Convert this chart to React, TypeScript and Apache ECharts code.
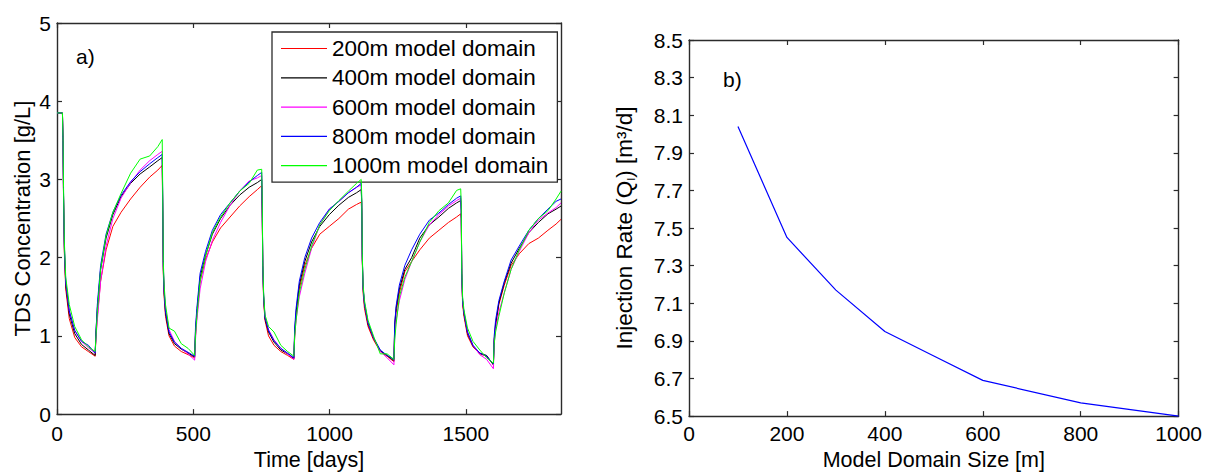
import React, { useEffect, useRef } from "react";
import * as echarts from "echarts";

// Time axis (days) shared by all concentration series
const timeDays = [
  0, 20, 22, 24, 27, 32, 45, 65, 90, 115, 140,
  143, 148, 160, 180, 205, 235, 270, 305, 340, 370, 386,
  388, 390, 393, 398, 411, 431, 456, 481, 505,
  508, 513, 525, 545, 570, 600, 635, 670, 705, 735, 751,
  753, 755, 758, 763, 776, 796, 821, 846, 869,
  872, 877, 889, 909, 934, 964, 999, 1034, 1069, 1099, 1116,
  1118, 1120, 1123, 1128, 1141, 1161, 1186, 1211, 1236,
  1239, 1244, 1256, 1276, 1301, 1331, 1366, 1401, 1436, 1466, 1481,
  1483, 1485, 1488, 1493, 1506, 1526, 1551, 1576, 1601,
  1604, 1609, 1621, 1641, 1666, 1696, 1731, 1766, 1801, 1831, 1849,
];

const tds200 = [
  3.85, 3.85, 3.5, 2.75, 2.05, 1.6, 1.22, 0.98, 0.86, 0.8, 0.74,
  1.0, 1.25, 1.7, 2.1, 2.4, 2.58, 2.75, 2.9, 3.03, 3.12, 3.18,
  2.5, 1.8, 1.5, 1.25, 1.0, 0.87, 0.8, 0.76, 0.72,
  1.0, 1.25, 1.7, 1.98, 2.2, 2.38, 2.52, 2.66, 2.78, 2.87, 2.92,
  2.5, 1.85, 1.45, 1.2, 1.0, 0.88, 0.8, 0.75, 0.7,
  1.0, 1.25, 1.6, 1.9, 2.12, 2.3, 2.4, 2.5, 2.62, 2.68, 2.71,
  2.6, 1.95, 1.55, 1.35, 1.12, 0.95, 0.8, 0.74, 0.67,
  1.1, 1.3, 1.55, 1.82, 1.95, 2.1, 2.25, 2.35, 2.45, 2.52, 2.56,
  2.5, 1.75, 1.4, 1.25, 1.0, 0.86, 0.77, 0.74, 0.63,
  0.95, 1.12, 1.4, 1.65, 1.9, 2.05, 2.18, 2.25, 2.35, 2.43, 2.49,
];

const tds400 = [
  3.85, 3.85, 3.5, 2.8, 2.1, 1.65, 1.28, 1.03, 0.89, 0.82, 0.75,
  1.05, 1.35, 1.85, 2.25, 2.55, 2.78, 2.95, 3.07, 3.16, 3.24, 3.28,
  2.6, 1.85, 1.55, 1.3, 1.03, 0.9, 0.83, 0.78, 0.73,
  1.05, 1.3, 1.75, 2.03, 2.3, 2.5, 2.67, 2.8, 2.9, 2.96, 3.0,
  2.6, 1.9, 1.5, 1.22, 1.05, 0.92, 0.82, 0.77, 0.71,
  1.05, 1.3, 1.65, 1.95, 2.2, 2.4, 2.55, 2.67, 2.77, 2.83, 2.87,
  2.7, 2.0, 1.6, 1.4, 1.15, 0.97, 0.81, 0.75, 0.68,
  1.15, 1.35, 1.6, 1.85, 2.0, 2.25, 2.42, 2.52, 2.63, 2.7, 2.73,
  2.6, 1.8, 1.45, 1.28, 1.03, 0.87, 0.78, 0.75, 0.63,
  0.95, 1.15, 1.42, 1.68, 1.93, 2.12, 2.32, 2.45, 2.56, 2.62, 2.66,
];

const tds600 = [
  3.85, 3.85, 3.5, 2.8, 2.15, 1.7, 1.32, 1.07, 0.93, 0.85, 0.78,
  0.98, 1.2, 1.7, 2.15, 2.5, 2.76, 2.96, 3.12, 3.24, 3.32, 3.36,
  2.7, 1.9, 1.6, 1.35, 1.08, 0.93, 0.84, 0.77, 0.69,
  0.95, 1.2, 1.6, 1.95, 2.22, 2.45, 2.67, 2.85, 2.98, 3.02, 3.05,
  2.6, 1.9, 1.52, 1.25, 1.08, 0.95, 0.84, 0.77, 0.7,
  1.0, 1.2, 1.5, 1.8, 2.12, 2.42, 2.62, 2.72, 2.83, 2.9, 2.93,
  2.7, 2.0, 1.62, 1.42, 1.17, 0.98, 0.8, 0.72, 0.63,
  1.0, 1.2, 1.45, 1.72, 1.95, 2.2, 2.42, 2.55, 2.66, 2.73, 2.76,
  2.6, 1.8, 1.45, 1.3, 1.05, 0.88, 0.76, 0.7, 0.58,
  0.9, 1.08, 1.3, 1.55, 1.85, 2.08, 2.32, 2.48, 2.57, 2.64, 2.7,
];

const tds800 = [
  3.85, 3.85, 3.5, 2.8, 2.15, 1.7, 1.32, 1.07, 0.93, 0.88, 0.78,
  1.05, 1.4, 1.9, 2.3, 2.58, 2.8, 2.97, 3.1, 3.2, 3.28, 3.32,
  2.7, 1.9, 1.58, 1.32, 1.05, 0.92, 0.84, 0.79, 0.74,
  1.1, 1.35, 1.8, 2.08, 2.35, 2.55, 2.7, 2.85, 2.97, 3.05, 3.09,
  2.6, 1.9, 1.52, 1.24, 1.07, 0.94, 0.84, 0.78, 0.72,
  1.1, 1.35, 1.7, 2.0, 2.25, 2.45, 2.62, 2.72, 2.83, 2.9, 2.95,
  2.7, 2.0, 1.62, 1.42, 1.17, 0.98, 0.82, 0.75, 0.7,
  1.15, 1.38, 1.65, 1.9, 2.1, 2.3, 2.48, 2.57, 2.68, 2.76, 2.79,
  2.6, 1.8, 1.45, 1.3, 1.05, 0.88, 0.78, 0.74, 0.64,
  1.0, 1.2, 1.45, 1.7, 1.97, 2.15, 2.35, 2.5, 2.62, 2.72, 2.75,
];

const tds1000 = [
  3.85, 3.85, 3.55, 2.9, 2.2, 1.75, 1.4, 1.12, 0.95, 0.86, 0.8,
  1.0, 1.3, 1.85, 2.28, 2.58, 2.82, 3.08, 3.26, 3.3, 3.42, 3.51,
  2.8, 1.95, 1.65, 1.4, 1.1, 1.06, 0.9, 0.84, 0.75,
  1.0, 1.25, 1.7, 2.02, 2.32, 2.52, 2.7, 2.85, 2.95, 3.12, 3.13,
  2.7, 1.95, 1.55, 1.27, 1.12, 1.05, 0.88, 0.8, 0.74,
  1.0, 1.2, 1.55, 1.85, 2.15, 2.42, 2.6, 2.73, 2.85, 2.95, 3.0,
  2.8, 2.05, 1.65, 1.45, 1.2, 1.0, 0.77, 0.77, 0.7,
  0.95, 1.15, 1.5, 1.75, 1.95, 2.2, 2.45, 2.6, 2.7, 2.86, 2.88,
  2.7, 1.85, 1.5, 1.33, 1.1, 0.93, 0.82, 0.72, 0.65,
  0.9, 1.05, 1.25, 1.55, 1.85, 2.1, 2.35, 2.5, 2.6, 2.75, 2.85,
];

const seriesNames = [
  "200m model domain",
  "400m model domain",
  "600m model domain",
  "800m model domain",
  "1000m model domain",
];
const seriesColors = ["#ff0000", "#000000", "#ff00ff", "#0000ff", "#00ff00"];
const seriesValues = [tds200, tds400, tds600, tds800, tds1000];

// Right panel
const domainSizes = [100, 200, 300, 400, 500, 600, 800, 1000];
const injectionRates = [8.04, 7.45, 7.17, 6.95, 6.82, 6.69, 6.57, 6.5];

// Tick labels
const timeTicks = [0, 500, 1000, 1500];
const tdsTicks = [0, 1, 2, 3, 4, 5];
const domainTicks = [0, 200, 400, 600, 800, 1000];
const rateTicks = [6.5, 6.7, 6.9, 7.1, 7.3, 7.5, 7.7, 7.9, 8.1, 8.3, 8.5];

const FONT = "'Liberation Sans', Arial, Helvetica, sans-serif";
const AX = "#2b2b2b";

function axisBase(ticks: number[], showLabel: boolean, margin: number, fmt?: (v: number) => string) {
  return {
    type: "value" as const,
    splitLine: { show: false },
    axisLine: { show: true, onZero: false, lineStyle: { color: AX, width: 1.4 } },
    axisTick: { show: true, inside: true, length: 5, customValues: ticks, lineStyle: { color: AX, width: 1.2 } },
    axisLabel: {
      show: showLabel,
      customValues: ticks,
      margin,
      color: "#000",
      fontSize: 21,
      fontFamily: FONT,
      formatter: fmt || ((v: number) => String(v)),
    },
  };
}

export default function App() {
  const ref = useRef<HTMLDivElement>(null);

  useEffect(() => {
    if (!ref.current) return;
    const chart = echarts.init(ref.current, null, { renderer: "svg" });

    const leftSeries = seriesNames.map((name, k) => ({
      name,
      type: "line",
      xAxisIndex: 0,
      yAxisIndex: 0,
      symbol: "none",
      showSymbol: false,
      lineStyle: { width: 1, color: seriesColors[k] },
      itemStyle: { color: seriesColors[k] },
      data: timeDays.map((t, i) => [t, seriesValues[k][i]]),
      z: 2 + k,
    }));

    const option: any = {
      animation: false,
      backgroundColor: "#fff",
      textStyle: { fontFamily: FONT },
      grid: [
        { left: 57, top: 23, width: 504, height: 393, containLabel: false },
        { left: 689, top: 40, width: 490, height: 385, containLabel: false },
      ],
      xAxis: [
        {
          ...axisBase(timeTicks, true, 9),
          gridIndex: 0,
          position: "bottom",
          min: 0,
          max: 1849,
          name: "Time [days]",
          nameLocation: "middle",
          nameGap: 31,
          nameTextStyle: { color: "#000", fontSize: 21.5, fontFamily: FONT },
        },
        { ...axisBase(timeTicks, false, 8), gridIndex: 0, position: "top", min: 0, max: 1849 },
        {
          ...axisBase(domainTicks, true, 7),
          gridIndex: 1,
          position: "bottom",
          min: 0,
          max: 1000,
          name: "Model Domain Size [m]",
          nameLocation: "middle",
          nameGap: 30,
          nameTextStyle: { color: "#000", fontSize: 21.5, fontFamily: FONT },
        },
        { ...axisBase(domainTicks, false, 8), gridIndex: 1, position: "top", min: 0, max: 1000 },
      ],
      yAxis: [
        {
          ...axisBase(tdsTicks, true, 6),
          gridIndex: 0,
          position: "left",
          min: 0,
          max: 5,
          name: "TDS Concentration [g/L]",
          nameLocation: "middle",
          nameGap: 24,
          nameTextStyle: { color: "#000", fontSize: 22, fontFamily: FONT },
        },
        { ...axisBase(tdsTicks, false, 8), gridIndex: 0, position: "right", min: 0, max: 5 },
        {
          ...axisBase(rateTicks, true, 6, (v: number) => v.toFixed(1)),
          gridIndex: 1,
          position: "left",
          min: 6.5,
          max: 8.5,
          name: "Injection Rate (Q{sub|I}) [m³/d]",
          nameLocation: "middle",
          nameGap: 53,
          nameTextStyle: {
            color: "#000",
            fontSize: 22.5,
            fontFamily: FONT,
            rich: { sub: { fontSize: 11, color: "#000", fontFamily: FONT, verticalAlign: "bottom" } },
          },
        },
        { ...axisBase(rateTicks, false, 8), gridIndex: 1, position: "right", min: 6.5, max: 8.5 },
      ],
      legend: {
        data: seriesNames.map((n) => ({ name: n, icon: "rect" })),
        orient: "vertical",
        left: 272,
        top: 32,
        padding: [5, 9, 5, 9],
        itemGap: 6.3,
        itemWidth: 46,
        itemHeight: 1.2,
        selectedMode: false,
        backgroundColor: "#fff",
        borderColor: AX,
        borderWidth: 1.3,
        textStyle: { color: "#000", fontSize: 22.5, fontFamily: FONT },
      },
      graphic: [
        {
          type: "text",
          left: 76,
          top: 46,
          style: { text: "a)", font: `21px ${FONT}`, fill: "#000" },
        },
        {
          type: "text",
          left: 723,
          top: 69,
          style: { text: "b)", font: `21px ${FONT}`, fill: "#000" },
        },
      ],
      series: [
        ...leftSeries,
        {
          name: "Injection rate",
          type: "line",
          xAxisIndex: 2,
          yAxisIndex: 2,
          symbol: "none",
          showSymbol: false,
          lineStyle: { width: 1.2, color: "#0000ff" },
          data: domainSizes.map((d, i) => [d, injectionRates[i]]),
        },
      ],
    };

    chart.setOption(option);
    return () => chart.dispose();
  }, []);

  return (
    <div
      ref={ref}
      style={{ position: "absolute", left: 0, top: 0, width: 1205, height: 476, background: "#fff" }}
    />
  );
}
